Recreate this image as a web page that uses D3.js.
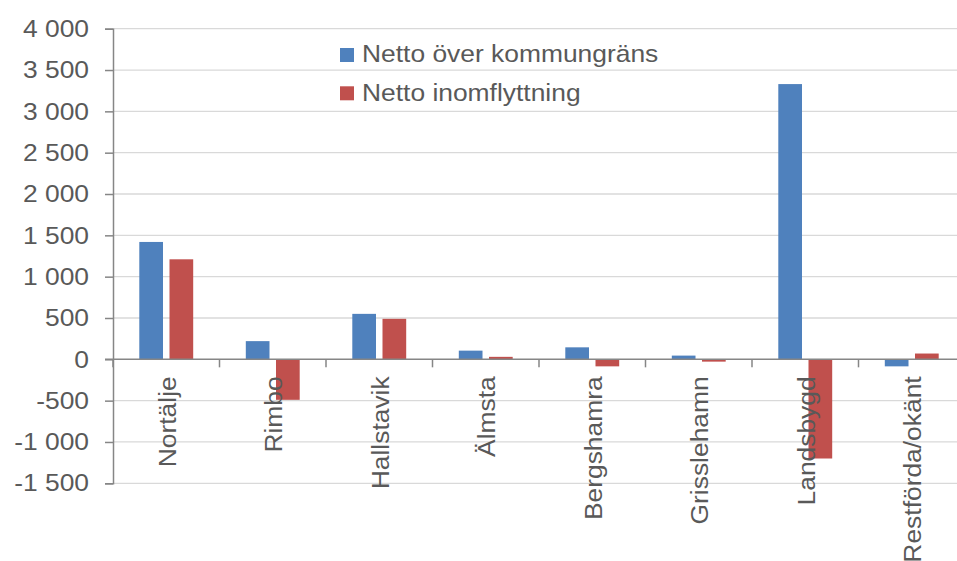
<!DOCTYPE html>
<html>
<head>
<meta charset="utf-8">
<script src="https://cdn.jsdelivr.net/npm/d3@7"></script>
<style>
  body { margin: 0; background: #fff; }
  svg { display: block; font-family: "Liberation Sans", Arial, sans-serif; }
</style>
</head>
<body>
<div id="plot"></div>
<script>
// data
var categories = ["Nortälje", "Rimbo", "Hallstavik", "Älmsta", "Bergshamra", "Grisslehamn", "Landsbygd", "Restförda/okänt"];
var seriesNames = ["Netto över kommungräns", "Netto inomflyttning"];
var nettoKommungrans = [1420, 220, 550, 105, 145, 45, 3330, -85];
var nettoInomflyttning = [1210, -490, 490, 30, -85, -28, -1200, 70];
var yTicks = [-1500, -1000, -500, 0, 500, 1000, 1500, 2000, 2500, 3000, 3500, 4000];

var colors = ["#4F81BD", "#C0504D"];
var textColor = "#595959";
// the original font runs a bit wider than Liberation Sans
var stretch = 1.1;

var svgWidth = 957;
var svgHeight = 561;

var svg = d3.select("#plot")
    .append("svg")
    .attr("width", svgWidth)
    .attr("height", svgHeight);

// scales
var x0 = d3.scaleBand()
    .domain(categories)
    .range([113, 965])
    .padding(0);

var x1 = d3.scaleBand()
    .domain(seriesNames)
    .range([26.3, x0.bandwidth() - 26.3])
    .paddingInner(0.215)
    .paddingOuter(0);

var y = d3.scaleLinear()
    .domain([-1500, 4000])
    .range([483.3, 28.7]);

// swedish style number: space between thousands, plain hyphen minus
var fmt = d3.formatLocale({
    decimal: ",",
    thousands: "\u00a0",
    grouping: [3],
    currency: ["", " kr"],
    minus: "-"
}).format(",d");

// gridlines
svg.append("g")
    .selectAll("line")
    .data(yTicks.filter(function (d) { return d !== 0; }))
    .enter()
    .append("line")
    .attr("x1", 113)
    .attr("x2", 965)
    .attr("y1", function (d) { return y(d); })
    .attr("y2", function (d) { return y(d); })
    .attr("stroke", "#D9D9D9")
    .attr("stroke-width", 1.3);

// bars
var rows = categories.map(function (c, i) {
    return { cat: c, values: [nettoKommungrans[i], nettoInomflyttning[i]] };
});

var groups = svg.append("g")
    .selectAll("g")
    .data(rows)
    .enter()
    .append("g")
    .attr("transform", function (d) { return "translate(" + x0(d.cat) + ",0)"; });

groups.selectAll("rect")
    .data(function (d) {
        return d.values.map(function (v, j) { return { name: seriesNames[j], value: v, j: j }; });
    })
    .enter()
    .append("rect")
    .attr("x", function (d) { return x1(d.name); })
    .attr("width", x1.bandwidth())
    .attr("y", function (d) { return y(Math.max(0, d.value)); })
    .attr("height", function (d) { return Math.abs(y(d.value) - y(0)); })
    .attr("fill", function (d) { return colors[d.j]; });

// y axis
var leftAxis = d3.axisLeft(y)
    .tickValues(yTicks)
    .tickSize(8)
    .tickPadding(16)
    .tickFormat(fmt);

var yAxisG = svg.append("g")
    .attr("transform", "translate(113,0)")
    .call(leftAxis);
yAxisG.select(".domain").attr("stroke", "#868686").attr("stroke-width", 1.5);
yAxisG.selectAll(".tick line").attr("stroke", "#868686").attr("stroke-width", 1.5);
yAxisG.selectAll(".tick text")
    .attr("x", 0)
    .attr("transform", "translate(-24,0) scale(" + stretch + ",1)")
    .attr("fill", textColor)
    .attr("font-size", "24px")
    .attr("font-family", "Liberation Sans, Arial, sans-serif");

// x axis at zero, ticks on band boundaries
var xAxisG = svg.append("g");
xAxisG.append("line")
    .attr("x1", 105)
    .attr("x2", 965)
    .attr("y1", y(0))
    .attr("y2", y(0))
    .attr("stroke", "#868686")
    .attr("stroke-width", 1.5);

xAxisG.selectAll(".xtick")
    .data(categories)
    .enter()
    .append("line")
    .attr("class", "xtick")
    .attr("x1", function (d) { return x0(d); })
    .attr("x2", function (d) { return x0(d); })
    .attr("y1", y(0))
    .attr("y2", y(0) + 8)
    .attr("stroke", "#868686")
    .attr("stroke-width", 1.5);

// category labels, rotated
xAxisG.selectAll(".xlabel")
    .data(categories)
    .enter()
    .append("text")
    .attr("class", "xlabel")
    .attr("transform", function (d) {
        return "translate(" + (x0(d) + x0.bandwidth() / 2) + "," + (y(0) + 17) + ") rotate(-90) scale(" + stretch + ",1)";
    })
    .attr("dy", "0.4em")
    .attr("text-anchor", "end")
    .attr("font-size", "24px")
    .attr("fill", textColor)
    .text(function (d) { return d; });

// legend
var legend = svg.append("g")
    .selectAll("g")
    .data(seriesNames)
    .enter()
    .append("g")
    .attr("transform", function (d, i) { return "translate(340," + (48 + i * 38.3) + ")"; });

legend.append("rect")
    .attr("width", 14)
    .attr("height", 14)
    .attr("fill", function (d, i) { return colors[i]; });

legend.append("text")
    .attr("transform", "translate(22,14.3) scale(" + stretch + ",1)")
    .attr("font-size", "24px")
    .attr("fill", textColor)
    .text(function (d) { return d; });
</script>
</body>
</html>
